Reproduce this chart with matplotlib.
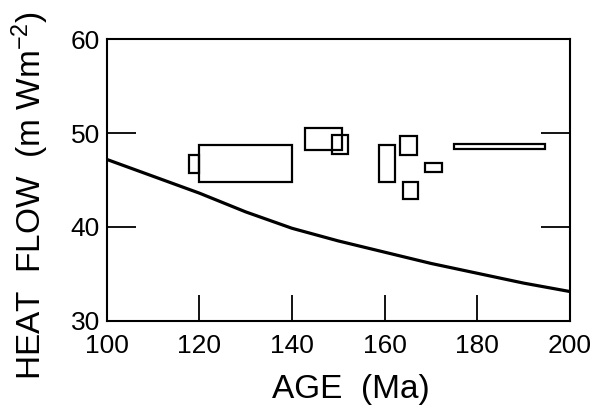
import numpy as np
import matplotlib
matplotlib.use("Agg")
import matplotlib.pyplot as plt
from matplotlib.patches import Rectangle

plt.rcParams['font.family'] = ['Liberation Sans', 'DejaVu Sans']
plt.rcParams['mathtext.default'] = 'regular'

# Site heat-flow boxes: age range (Ma) and heat-flow range (mW m^-2)
age_lo = [117.8, 120.0, 142.8, 148.7, 158.7, 163.3, 163.9, 168.8, 175.0]
age_hi = [120.0, 140.0, 150.9, 152.2, 162.3, 167.0, 167.3, 172.3, 194.7]
hf_lo = [45.8, 44.8, 48.2, 47.8, 44.8, 47.7, 43.0, 45.9, 48.3]
hf_hi = [47.7, 48.7, 50.5, 49.8, 48.7, 49.7, 44.8, 46.8, 48.8]

# Model curve of heat flow against age
curve_age = [100, 110, 120, 130, 140, 150, 160, 170, 180, 190, 200]
curve_hf = [47.2, 45.4, 43.6, 41.6, 39.85, 38.5, 37.3, 36.1, 35.05, 34.0, 33.1]

fig = plt.figure(figsize=(5.93, 4.11), dpi=100)
ax = fig.add_axes([0.18, 0.22, 0.781, 0.684])

ax.plot(curve_age, curve_hf, color='black', lw=2.3, solid_capstyle='butt')

for x0, x1, y0, y1 in zip(age_lo, age_hi, hf_lo, hf_hi):
    ax.add_patch(Rectangle((x0, y0), x1 - x0, y1 - y0, fill=False,
                           edgecolor='black', lw=1.6))

ax.set_xlim(100, 200)
ax.set_ylim(30, 60)
ax.set_xticks(np.arange(100, 201, 20))
ax.set_yticks(np.arange(30, 61, 10))

for s in ax.spines.values():
    s.set_linewidth(1.5)

ax.tick_params(axis='x', direction='in', length=19, width=1.3,
               labelsize=19, pad=10, top=False)
ax.tick_params(axis='y', direction='in', length=21, width=1.3,
               labelsize=19, pad=5, right=True)

ax.set_xlabel('AGE  (Ma)', fontsize=24)
ax.xaxis.set_label_coords(0.528, -0.19)
ax.set_ylabel('HEAT  FLOW  (m Wm$^{-2}$)', fontsize=24)
ax.yaxis.set_label_coords(-0.12, 0.445)

fig.savefig('out.png', dpi=100)
